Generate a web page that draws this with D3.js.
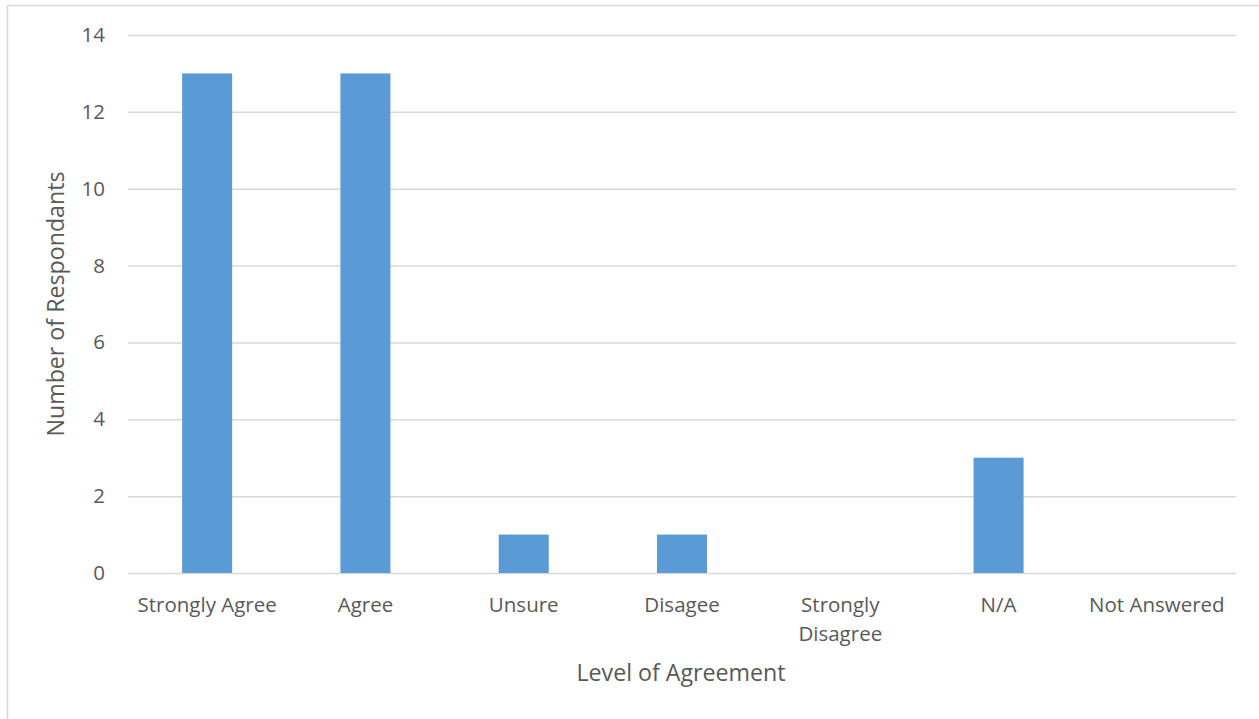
<!DOCTYPE html>
<html><head><meta charset="utf-8">
<script src="https://cdn.jsdelivr.net/npm/d3@7"></script>
<style>body{margin:0;background:#fff}svg{display:block}text{font-family:"Open Sans",sans-serif;fill:#595959}</style>
</head><body>
<svg id="c" width="1259" height="719"></svg>
<script>
const categories = ["Strongly Agree","Agree","Unsure","Disagee","Strongly Disagree","N/A","Not Answered"];
const values = [13,13,1,1,0,3,0];
const yTicks = [0,2,4,6,8,10,12,14];

const svg = d3.select("#c");
svg.append("rect").attr("x",7.5).attr("y",5.5).attr("width",1300).attr("height",800)
  .attr("fill","none").attr("stroke","#d9d9d9").attr("stroke-width",1.5);

const L=128,R=1236,T=35,B=573;
const x = d3.scaleBand().domain(categories).range([L,R]).paddingInner(0.684).paddingOuter(0.342);
const y = d3.scaleLinear().domain([0,14]).range([B,T]);

const gy = svg.append("g").attr("transform",`translate(${L},0)`)
  .call(d3.axisLeft(y).tickValues(yTicks).tickSize(-(R-L)).tickPadding(23));
gy.select(".domain").remove();
gy.selectAll(".tick line").attr("stroke","#d9d9d9").attr("stroke-width",1.5);
gy.selectAll(".tick text").style("font-size","20.5px").style("fill","#595959");

svg.append("g").selectAll("rect").data(values).join("rect")
  .attr("x",(d,i)=>x(categories[i])).attr("width",x.bandwidth())
  .attr("y",d=>y(d)).attr("height",d=>y(0)-y(d)).attr("fill","#5B9BD5");

const gx = svg.append("g").attr("transform",`translate(0,${B})`)
  .call(d3.axisBottom(x).tickSize(0).tickPadding(0));
gx.select(".domain").remove();
gx.selectAll(".tick text").style("font-size","20.5px").style("fill","#595959")
  .attr("dy",null).attr("y",null).text(null)
  .each(function(d){
    const t=d3.select(this);
    const lines = d==="Strongly Disagree" ? ["Strongly","Disagree"] : [d];
    lines.forEach((s,i)=>t.append("tspan").attr("x",0).attr("y",39+i*29).text(s));
  });

svg.append("text").attr("x",681).attr("y",681).attr("text-anchor","middle")
  .style("font-size","23.2px").text("Level of Agreement");
svg.append("text").attr("transform","translate(64,304) rotate(-90)").attr("text-anchor","middle")
  .style("font-size","23.2px").text("Number of Respondants");
</script>
</body></html>
